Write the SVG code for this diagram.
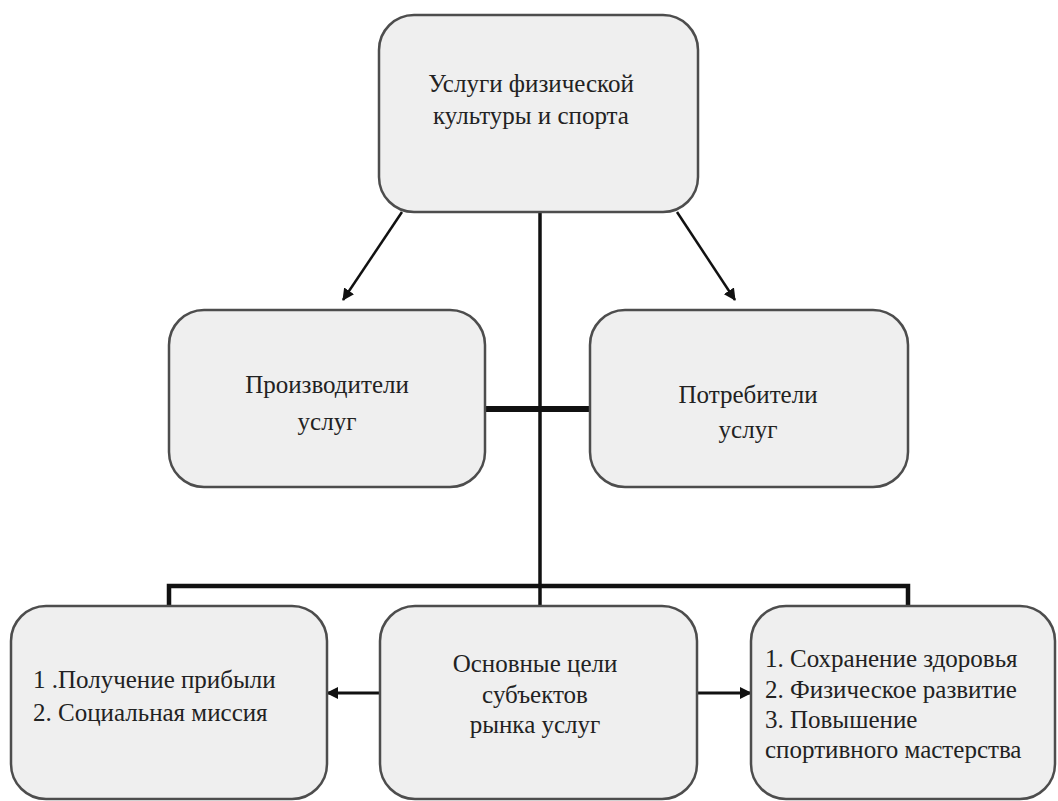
<svg xmlns="http://www.w3.org/2000/svg" width="1058" height="801" viewBox="0 0 1058 801">
<style>
.box{fill:#efefef;stroke:#4d4d4d;stroke-width:2.5}
.t{font-family:'Liberation Serif','Times New Roman',serif;font-size:25px;fill:#222}
.c{text-anchor:middle}
.ln{stroke:#111;fill:none}
</style>
<defs>
<marker id="ah" viewBox="0 0 12 12" refX="11" refY="6" markerWidth="12" markerHeight="12" markerUnits="userSpaceOnUse" orient="auto">
<path d="M0,0 L12,6 L0,12 Z" fill="#111"/>
</marker>
</defs>
<rect width="1058" height="801" fill="#fff"/>
<g id="connectors">
<line class="ln" x1="540" y1="212" x2="540" y2="606" stroke-width="3.5"/>
<line class="ln" x1="485" y1="409" x2="590" y2="409" stroke-width="6"/>
<polyline class="ln" points="169,606 169,586 908,586 908,606" stroke-width="4.5"/>
<line class="ln" x1="402" y1="212" x2="343" y2="300" marker-end="url(#ah)" stroke-width="2.5"/>
<line class="ln" x1="677" y1="212" x2="735" y2="300" marker-end="url(#ah)" stroke-width="2.5"/>
<line class="ln" x1="380" y1="693" x2="327" y2="693" marker-end="url(#ah)" stroke-width="3"/>
<line class="ln" x1="697" y1="693" x2="751" y2="693" marker-end="url(#ah)" stroke-width="3"/>
</g>
<g id="top">
<rect class="box" x="379" y="15" width="319" height="197" rx="35"/>
<text class="t c" x="531" y="92" font-family="Liberation Serif, serif">Услуги физической</text>
<text class="t c" x="531" y="124" font-family="Liberation Serif, serif">культуры и спорта</text>
</g>
<g id="producers">
<rect class="box" x="169" y="310" width="316" height="177" rx="35"/>
<text class="t c" x="327" y="393" font-family="Liberation Serif, serif">Производители</text>
<text class="t c" x="327" y="430" font-family="Liberation Serif, serif">услуг</text>
</g>
<g id="consumers">
<rect class="box" x="590" y="310" width="318" height="177" rx="35"/>
<text class="t c" x="748" y="403" font-family="Liberation Serif, serif">Потребители</text>
<text class="t c" x="748" y="438" font-family="Liberation Serif, serif">услуг</text>
</g>
<g id="goals-left">
<rect class="box" x="11" y="606" width="316" height="193" rx="35"/>
<text class="t" x="33" y="688" font-family="Liberation Serif, serif">1 .Получение прибыли</text>
<text class="t" x="33" y="721" font-family="Liberation Serif, serif">2. Социальная миссия</text>
</g>
<g id="goals-center">
<rect class="box" x="380" y="606" width="317" height="193" rx="35"/>
<text class="t c" x="535" y="672" font-family="Liberation Serif, serif">Основные цели</text>
<text class="t c" x="535" y="703" font-family="Liberation Serif, serif">субъектов</text>
<text class="t c" x="535" y="733" font-family="Liberation Serif, serif">рынка услуг</text>
</g>
<g id="goals-right">
<rect class="box" x="751" y="606" width="304" height="193" rx="35"/>
<text class="t" x="765" y="667" font-family="Liberation Serif, serif">1. Сохранение здоровья</text>
<text class="t" x="765" y="698" font-family="Liberation Serif, serif">2. Физическое развитие</text>
<text class="t" x="765" y="728" font-family="Liberation Serif, serif">3. Повышение</text>
<text class="t" x="765" y="758" font-family="Liberation Serif, serif">спортивного мастерства</text>
</g>
</svg>
